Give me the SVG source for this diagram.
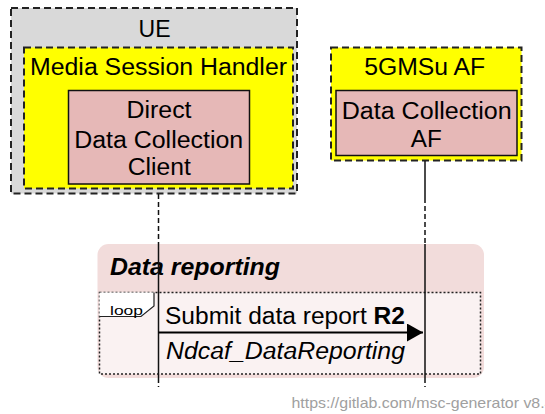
<svg xmlns="http://www.w3.org/2000/svg" width="545" height="414" viewBox="0 0 545 414">
<style>
text{font-family:"Liberation Sans",Arial,sans-serif;fill:#000}
.t{font-size:23px;text-anchor:middle}
.dash{stroke:#222;stroke-width:2;stroke-dasharray:7,4}
.ent{fill:#e6b8b7;stroke:#111;stroke-width:1.5}
.life{stroke:#111;stroke-width:1.5;fill:none}
.lifed{stroke:#111;stroke-width:1.5;stroke-dasharray:5,3;fill:none}
</style>
<defs>
<marker id="ah" viewBox="0 0 16 18" refX="16" refY="9" markerWidth="16" markerHeight="18" markerUnits="userSpaceOnUse" orient="auto">
<path d="M0 0 L16 9 L0 18 Z" fill="#000"/>
</marker>
</defs>

<g id="ue">
<rect x="11" y="8" width="286" height="185.5" fill="#d9d9d9" class="dash"/>
<text class="t" x="154.5" y="36.5" textLength="32" lengthAdjust="spacingAndGlyphs">UE</text>
</g>
<g id="msh">
<rect x="24" y="47.5" width="269" height="141" fill="#ffff00" class="dash"/>
<text class="t" x="158.5" y="75" textLength="257" lengthAdjust="spacingAndGlyphs">Media Session Handler</text>
</g>
<g id="ddc">
<rect x="68.5" y="90.5" width="181" height="93.5" class="ent"/>
<text class="t" x="159" y="118" textLength="65" lengthAdjust="spacingAndGlyphs">Direct</text>
<text class="t" x="158.7" y="147.5" textLength="169" lengthAdjust="spacingAndGlyphs">Data Collection</text>
<text class="t" x="159.3" y="175" textLength="63" lengthAdjust="spacingAndGlyphs">Client</text>
</g>
<g id="af5gms">
<rect x="331" y="47.5" width="190.5" height="113" fill="#ffff00" class="dash"/>
<text class="t" x="424.7" y="75" textLength="121" lengthAdjust="spacingAndGlyphs">5GMSu AF</text>
</g>
<g id="dcaf">
<rect x="336" y="90.5" width="181" height="65" class="ent"/>
<text class="t" x="426.7" y="119" textLength="170" lengthAdjust="spacingAndGlyphs">Data Collection</text>
<text class="t" x="426.3" y="146.5" textLength="31" lengthAdjust="spacingAndGlyphs">AF</text>
</g>

<g id="datareporting">
<rect x="97.5" y="244" width="386.5" height="134" rx="11" fill="#f2dcdb"/>
<text x="110" y="275" font-size="23" font-weight="bold" font-style="italic" textLength="170" lengthAdjust="spacingAndGlyphs">Data reporting</text>
</g>
<g id="loop">
<rect x="99.5" y="292.5" width="381" height="81.5" fill="#faf2f2" stroke="#222" stroke-width="1.5" stroke-dasharray="2,2"/>
<path d="M99.5 292.5 H154 V306 L141 316.5 H99.5 Z" fill="#fff"/>
<path d="M154 292.5 V306 L141 316.5 H99.5" fill="none" stroke="#222" stroke-width="1.2"/>
<text x="110" y="315" font-size="12.5" textLength="33" lengthAdjust="spacingAndGlyphs">loop</text>
</g>

<g id="connectors">
<path class="lifed" d="M158.5 194 V244 M158.5 378 V387"/>
<path class="life" d="M158.5 244 V378"/>
<path class="life" d="M425 161 V198 M425 244 V378"/>
<path class="lifed" d="M425 198 V244 M425 378 V387"/>
<line x1="158.5" y1="332.5" x2="423" y2="332.5" stroke="#000" stroke-width="2" marker-end="url(#ah)"/>
<text x="165" y="324" font-size="23" textLength="240" lengthAdjust="spacingAndGlyphs">Submit data report <tspan font-weight="bold">R2</tspan></text>
<text x="166" y="358.5" font-size="23" font-style="italic" textLength="239" lengthAdjust="spacingAndGlyphs">Ndcaf_DataReporting</text>
</g>

<text x="291.5" y="407.5" font-size="14.5" style="fill:#a0a0a0" textLength="262" lengthAdjust="spacingAndGlyphs">https://gitlab.com/msc-generator v8.4</text>
</svg>
